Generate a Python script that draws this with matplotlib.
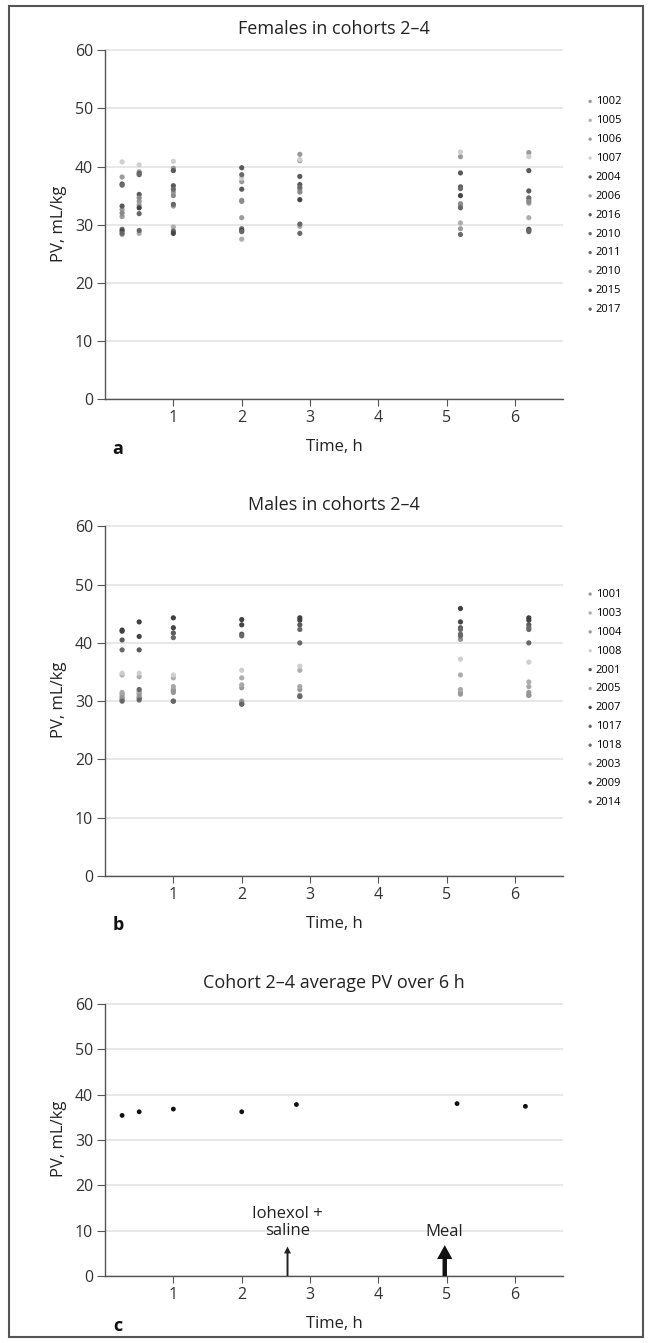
import matplotlib
matplotlib.use('Agg')
import matplotlib.pyplot as plt
from matplotlib.patches import Rectangle

plt.rcParams.update({
    'font.family': ['Open Sans', 'DejaVu Sans'],
    'font.size': 11.5,
    'axes.spines.top': False,
    'axes.spines.right': False,
    'axes.edgecolor': '#555555',
    'axes.linewidth': 1.0,
    'xtick.color': '#555555',
    'ytick.color': '#555555',
    'xtick.labelcolor': '#333333',
    'ytick.labelcolor': '#333333',
    'xtick.major.size': 5,
    'ytick.major.size': 6,
    'xtick.major.pad': 3,
    'ytick.major.pad': 2.5,
    'xtick.labelsize': 11.5,
    'ytick.labelsize': 11.5,
})

# sampling times (h)
times = [0.25, 0.5, 1.0, 2.0, 2.85, 5.2, 6.2]
times_avg = [0.25, 0.5, 1.0, 2.0, 2.8, 5.15, 6.15]

# females, cohorts 2-4 (PV, mL/kg)
fem_ids = ['1002', '1005', '1006', '1007', '2004', '2006',
           '2016', '2010', '2011', '2010', '2015', '2017']
fem_colors = ['#9a9a9a', '#adadad', '#9a9a9a', '#cfcfcf', '#595959', '#9d9d9d',
              '#5a5a5a', '#686868', '#6a6a6a', '#8a8a8a', '#454545', '#676767']
fem_pv = [
    [31.4, 34.0, 35.6, 34.2, 41.0, 41.7, 42.4],
    [28.3, 28.5, 29.6, 27.5, 29.7, 30.3, 31.2],
    [38.2, 39.1, 39.7, 37.4, 42.1, 33.3, 34.3],
    [40.8, 40.3, 40.9, 38.0, 41.2, 42.5, 41.7],
    [37.0, 38.8, 39.3, 39.8, 38.3, 38.9, 39.3],
    [32.6, 33.4, 33.2, 31.2, 36.0, 29.3, 33.7],
    [33.2, 35.2, 36.7, 36.1, 36.9, 36.5, 35.8],
    [29.2, 29.0, 28.9, 29.3, 28.5, 28.3, 28.8],
    [36.8, 38.6, 36.1, 38.6, 36.4, 36.2, 34.6],
    [32.0, 34.6, 35.0, 34.0, 35.6, 33.6, 34.0],
    [28.9, 32.9, 28.5, 29.0, 34.3, 35.0, 29.2],
    [28.5, 31.9, 33.5, 28.8, 30.1, 32.9, 29.0],
]

# males, cohorts 2-4 (PV, mL/kg)
male_ids = ['1001', '1003', '1004', '1008', '2001', '2005',
            '2007', '1017', '1018', '2003', '2009', '2014']
male_colors = ['#9a9a9a', '#adadad', '#9a9a9a', '#cfcfcf', '#5a5a5a', '#a8a8a8',
               '#454545', '#686868', '#6a6a6a', '#959595', '#404040', '#676767']
male_pv = [
    [31.2, 31.5, 32.0, 32.3, 32.0, 31.5, 31.5],
    [34.5, 34.2, 34.0, 34.0, 35.3, 34.5, 33.3],
    [30.8, 31.2, 31.8, 30.0, 31.0, 31.2, 31.0],
    [34.8, 34.8, 34.5, 35.3, 36.0, 37.2, 36.7],
    [40.5, 38.8, 41.7, 41.5, 43.1, 42.6, 43.1],
    [31.5, 31.7, 32.5, 32.8, 32.5, 32.0, 32.5],
    [42.0, 41.1, 42.6, 43.1, 43.9, 43.6, 43.9],
    [38.8, 32.0, 40.9, 41.2, 42.3, 42.3, 42.6],
    [30.2, 30.5, 30.0, 29.5, 40.0, 41.5, 42.3],
    [30.5, 30.8, 31.5, 29.8, 30.8, 40.6, 31.0],
    [42.2, 43.6, 44.3, 44.0, 44.3, 45.9, 44.3],
    [30.0, 30.2, 30.0, 29.5, 30.8, 41.2, 40.0],
]

# cohort average
avg_pv = [35.4, 36.2, 36.8, 36.2, 37.8, 38.0, 37.4]

W, H = 649, 1343
fig = plt.figure(figsize=(W / 100, H / 100), dpi=100)


def add_axes(top, bottom):
    left, right = 105, 563
    return fig.add_axes([left / W, 1 - bottom / H, (right - left) / W, (bottom - top) / H])


def style_axes(ax, title):
    ax.set_xlim(0, 6.7)
    ax.set_ylim(0, 60.4)
    ax.spines['left'].set_bounds(0, 60)
    ax.set_xticks([1, 2, 3, 4, 5, 6])
    ax.set_yticks([0, 10, 20, 30, 40, 50, 60])
    ax.yaxis.grid(True, color='#e6e6e6', linewidth=1.3)
    ax.set_axisbelow(True)
    ax.set_xlabel('Time, h', fontsize=12, color='#222222', labelpad=9)
    ax.set_ylabel('PV, mL/kg', fontsize=12, color='#222222', labelpad=6)
    ax.set_title(title, fontsize=13, color='#222222', pad=10)


def scatter_panel(ax, ids, colors, values, top):
    for sid, col, vals in zip(ids, colors, values):
        ax.scatter(times, vals, s=14, color=col, edgecolors='none', label=sid, zorder=3)
    ax.legend(loc='upper left', bbox_to_anchor=(1.035, top), frameon=False,
              fontsize=8, handletextpad=-0.1, labelspacing=0.71, markerscale=0.65,
              borderaxespad=0, handlelength=1.2)


ax_a = add_axes(48, 399)
style_axes(ax_a, 'Females in cohorts 2\u20134')
scatter_panel(ax_a, fem_ids, fem_colors, fem_pv, 0.875)

ax_b = add_axes(524, 876)
style_axes(ax_b, 'Males in cohorts 2\u20134')
scatter_panel(ax_b, male_ids, male_colors, male_pv, 0.828)

ax_c = add_axes(1002, 1276)
style_axes(ax_c, 'Cohort 2\u20134 average PV over 6 h')
ax_c.scatter(times_avg, avg_pv, s=12, color='#111111', edgecolors='none', zorder=3)

# dosing / meal markers
ax_c.annotate('', xy=(2.67, 6.5), xytext=(2.67, 0),
              arrowprops=dict(width=1.4, headwidth=5, headlength=5, shrink=0,
                              color='#222222', lw=0), annotation_clip=False)
ax_c.annotate('', xy=(4.97, 6.8), xytext=(4.97, 0),
              arrowprops=dict(width=3.2, headwidth=11, headlength=10, shrink=0,
                              color='#111111', lw=0), annotation_clip=False)
ax_c.text(2.67, 11.8, 'Iohexol +\nsaline', ha='center', va='center',
          fontsize=12, color='#222222', linespacing=1.15)
ax_c.text(4.97, 9.7, 'Meal', ha='center', va='center', fontsize=12, color='#222222')

# panel letters
for letter, ypix in [('a', 449), ('b', 925), ('c', 1326)]:
    fig.text(118 / W, 1 - ypix / H, letter, fontsize=13, fontweight='bold',
             color='#111111', ha='center', va='center')

# outer frame
fig.patches.append(Rectangle((9 / W, 1 - 1337 / H), (643 - 9) / W, (1337 - 6) / H,
                             transform=fig.transFigure, fill=False,
                             edgecolor='#555555', linewidth=1.5))

fig.savefig('out.png', dpi=100)
plt.close()
